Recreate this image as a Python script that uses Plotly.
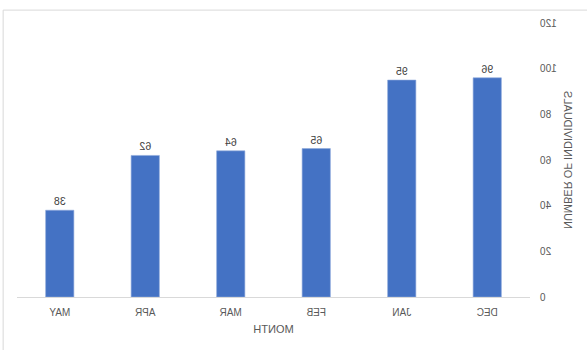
import plotly.graph_objects as go

# Monthly counts
months = ["DEC", "JAN", "FEB", "MAR", "APR", "MAY"]
individuals = [96, 95, 65, 64, 62, 38]
y_ticks = [0, 20, 40, 60, 80, 100, 120]

FONT = "Liberation Sans, Arial, sans-serif"
AXIS_GRAY = "#d9d9d9"
TEXT_GRAY = "#595959"

fig = go.Figure(
    go.Bar(
        x=months,
        y=individuals,
        text=[str(v) for v in individuals],
        textposition="outside",
        textfont=dict(family=FONT, size=10.5, color="#404040"),
        marker=dict(color="#4472c4", line=dict(color="#8faadc", width=0.6)),
        cliponaxis=False,
        hoverinfo="skip",
    )
)

fig.update_layout(
    width=587,
    height=350,
    margin=dict(l=57, r=17, t=23, b=53),
    paper_bgcolor="white",
    plot_bgcolor="white",
    bargap=0.67,
    showlegend=False,
    font=dict(family=FONT, size=10, color=TEXT_GRAY),
    xaxis=dict(
        showgrid=False,
        showline=True,
        linecolor=AXIS_GRAY,
        linewidth=1,
        ticks="",
        ticklabelstandoff=6,
        tickfont=dict(size=10, color=TEXT_GRAY),
        title=dict(text="MONTH", font=dict(size=11, color=TEXT_GRAY), standoff=8),
    ),
    yaxis=dict(
        range=[0, 120],
        tickvals=y_ticks,
        showgrid=False,
        showline=False,
        zeroline=False,
        ticks="",
        ticklabelstandoff=9,
        tickfont=dict(size=10, color=TEXT_GRAY),
        title=dict(text="NUMBER OF INDIVIDUALS", font=dict(size=11, color=TEXT_GRAY), standoff=4),
    ),
    shapes=[
        # chart frame edges
        dict(type="line", xref="paper", yref="paper", x0=-0.12, x1=1.027, y0=1.047, y1=1.047,
             line=dict(color=AXIS_GRAY, width=1)),
        dict(type="line", xref="paper", yref="paper", x0=1.027, x1=1.027, y0=-0.2, y1=1.047,
             line=dict(color=AXIS_GRAY, width=1)),
    ],
)

# Present the chart mirrored left-to-right
fig.write_html(
    "out.html",
    post_script="var gd=document.getElementById('{plot_id}'); gd.style.transform='scaleX(-1)'; gd.style.transformOrigin='50% 50%';",
)
